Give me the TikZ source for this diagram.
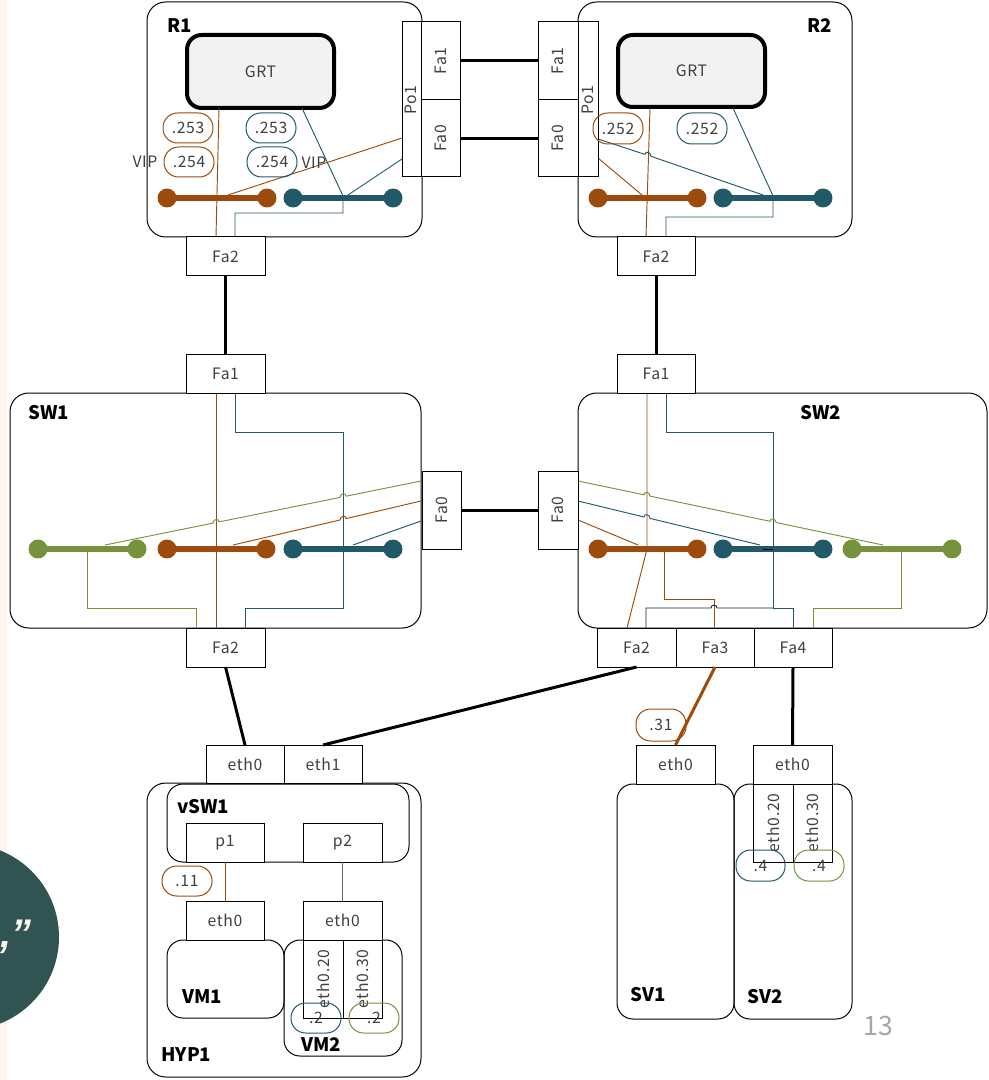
\documentclass[tikz,border=0pt]{standalone}
\usepackage{fontspec}
\setmainfont{Noto Sans CJK JP}
\newfontfamily\quotefont{Liberation Sans}
\usetikzlibrary{calc}

\definecolor{vorange}{HTML}{9C4B0C}
\definecolor{vblue}{HTML}{225968}
\definecolor{vgreen}{HTML}{76933C}
\definecolor{txt}{HTML}{404040}
\definecolor{grtfill}{HTML}{F2F2F2}
\definecolor{cream}{HTML}{FBF7EC}
\definecolor{badge}{HTML}{2F5451}
\definecolor{pagegray}{HTML}{A6A6A6}

\newcommand\porttext{\fontsize{11.8}{14}\selectfont\addfontfeatures{LetterSpace=4}}
\newcommand\devtext{\fontsize{14}{16}\selectfont\bfseries}

% a box given by its pixel corners: [style]{name}{x1}{y1}{x2}{y2}{text}
\newcommand\pxbox[7][]{%
  \node[#1, minimum width={(#5-#3)*0.75pt}, minimum height={(#6-#4)*0.75pt}]
    (#2) at ({(#3+#5)/2},{(#4+#6)/2}) {#7};}

% a VLAN bar with round ends: {colour}{x1}{x2}{y}
\newcommand\lolli[4]{%
  \draw[line width=5pt, #1] (#2,#4) -- (#3,#4);
  \fill[#1] (#2,#4) circle[radius=7.1pt];
  \fill[#1] (#3,#4) circle[radius=7.1pt];}

\begin{document}
\begin{tikzpicture}[x=0.75pt,y=-0.75pt,
  port/.style={draw=black, line width=0.75pt, fill=white, inner sep=0pt, outer sep=0pt, text=txt, font=\porttext},
  dev/.style={draw=black, line width=0.75pt, rounded corners=14pt, inner sep=0pt, outer sep=0pt},
  subdev/.style={draw=black, line width=0.75pt, rounded corners=12pt, inner sep=0pt, outer sep=0pt},
  grt/.style={draw=black, line width=3pt, fill=grtfill, rounded corners=11pt, inner sep=0pt, text=txt, font=\porttext},
  pill/.style={draw=#1, line width=0.75pt, rounded corners=11pt, inner sep=0pt, text=txt, font=\porttext},
  lbl/.style={text=txt, font=\porttext, inner sep=0pt},
  devlbl/.style={text=black, font=\devtext, inner sep=0pt},
  vlan/.style={line width=0.7pt, draw=#1},
  wire/.style={line width=2.25pt, draw=black},
]
\useasboundingbox (0,0) rectangle (988,1080);
\fill[white] (0,0) rectangle (988,1080);
\clip (0,0) rectangle (988,1080);

% side strip and badge
\fill[cream] (0,0) rectangle (7,1080);
\fill[badge] (-34,937) circle[radius=69.75pt];
\node[anchor=base west, inner sep=0pt, text=cream,
      font=\quotefont\bfseries\itshape\fontsize{30}{30}\selectfont] (quote) at (0,947) {,”};

% ---------- devices ----------
\pxbox[dev]{r1}{147}{2}{422}{237}{}
\pxbox[dev]{r2}{578}{2}{852}{237}{}
\pxbox[dev]{sw1}{10}{393}{421}{628}{}
\pxbox[dev]{sw2}{578}{393}{987}{628}{}
\pxbox[dev]{hyp}{147}{783}{421}{1077}{}
\pxbox[subdev]{vsw}{167}{784}{409}{862}{}
\pxbox[subdev]{vm1}{167}{940}{284}{1018}{}
\pxbox[subdev]{vm2}{284}{940}{402}{1056}{}
\pxbox[subdev]{sv1}{617}{784}{734}{1019}{}
\pxbox[subdev]{sv2}{734}{784}{852}{1019}{}

\pxbox[grt]{grt1}{187}{35}{334}{108}{GRT}
\pxbox[grt]{grt2}{618}{35}{765}{107}{GRT}

% ---------- VLAN bars ----------
\lolli{vorange}{167}{267}{198}
\lolli{vblue}{293}{393}{198}
\lolli{vorange}{598}{697}{198}
\lolli{vblue}{723}{823}{198}
\lolli{vgreen}{38}{137}{549}
\lolli{vorange}{167}{266}{549}
\lolli{vblue}{293}{393}{549}
\lolli{vorange}{598}{697}{549}
\lolli{vblue}{723}{823}{549}
\lolli{vgreen}{852}{952}{549}

% ---------- VLAN paths inside R1 ----------
\draw[vlan=vorange] (219,108) -- (216,237);
\draw[vlan=vorange] (402,138) -- (228,195);
\draw[vlan=vblue] (302,108) -- (343,196) -- (343,213) -- (235,213) -- (235,237);
\draw[vlan=vblue] (402,159) -- (348,195);

% ---------- VLAN paths inside R2 ----------
\draw[vlan=vorange] (650,108) -- (646,237);
\draw[vlan=vorange] (598,158) -- (642,195);
\draw[vlan=vblue] (598,139) -- (645,154.4) .. controls +(0,-4) and +(0,-4) .. (651,156.3) -- (763,195);
\draw[vlan=vblue] (733,108) -- (773,196) -- (773,217) -- (666,217) -- (666,237);

% ---------- VLAN paths inside SW1 ----------
\draw[vlan=vorange] (216,393) -- (216,628);
\draw[vlan=vblue] (235,393) -- (235,432) -- (343,432) -- (343,608) -- (245,608) -- (245,628);
\draw[vlan=vgreen] (87,549) -- (87,608) -- (196,608) -- (196,628);
\draw[vlan=vgreen] (421,481) -- (346,496.2) .. controls +(0,-4) and +(0,-4) .. (340,497.4)
  -- (219,521.9) .. controls +(0,-4) and +(0,-4) .. (213,523.1) -- (105,545);
\draw[vlan=vorange] (421,501) -- (346,518.6) .. controls +(0,-4) and +(0,-4) .. (340,520.0) -- (233,545);
\draw[vlan=vblue] (421,521) -- (353,545);

% ---------- VLAN paths inside SW2 ----------
\draw[vlan=vorange] (647,393) -- (647,549) -- (627,628);
\draw[vlan=vorange] (664,549) -- (664,599) -- (714,599) -- (714,628);
\draw[vlan=vblue] (666,393) -- (666,432) -- (773,432) -- (773,608) -- (793,608) -- (793,628);
\draw[vlan=black!85] (646,628) -- (646,608) -- (711,608) .. controls +(0,-4) and +(0,-4) .. (717,608) -- (773,608);
\draw[vlan=black] (763,549) -- (773,549);
\draw[vlan=vgreen] (901,549) -- (901,608) -- (813,608) -- (813,628);
\draw[vlan=vgreen] (578,481) -- (644,494.8) .. controls +(0,-4) and +(0,-4) .. (650,496.1)
  -- (770,521.3) .. controls +(0,-4) and +(0,-4) .. (776,522.5) -- (883,545);
\draw[vlan=vblue] (578,501) -- (644,517.0) .. controls +(0,-4) and +(0,-4) .. (650,518.4) -- (760,545);
\draw[vlan=vorange] (578,520) -- (638,545);

% ---------- ports ----------
\pxbox[port]{r1po1}{402}{22}{421}{177}{}
\pxbox[port]{r1fa1}{421}{22}{460}{100}{}
\pxbox[port]{r1fa0}{421}{100}{460}{177}{}
\pxbox[port]{r1fa2}{186}{237}{265}{276}{Fa2}
\pxbox[port]{r2po1}{578}{22}{598}{177}{}
\pxbox[port]{r2fa1}{538}{22}{578}{100}{}
\pxbox[port]{r2fa0}{538}{100}{578}{177}{}
\pxbox[port]{r2fa2}{617}{237}{695}{276}{Fa2}

\pxbox[port]{sw1fa1}{186}{354}{265}{393}{Fa1}
\pxbox[port]{sw1fa0}{422}{471}{461}{549}{}
\pxbox[port]{sw1fa2}{186}{628}{265}{667}{Fa2}
\pxbox[port]{sw2fa1}{617}{354}{695}{393}{Fa1}
\pxbox[port]{sw2fa0}{538}{471}{578}{549}{}
\pxbox[port]{sw2fa2}{597}{628}{676}{667}{Fa2}
\pxbox[port]{sw2fa3}{676}{628}{754}{667}{Fa3}
\pxbox[port]{sw2fa4}{754}{628}{832}{667}{Fa4}

\pxbox[port]{hypeth0}{206}{745}{284}{783}{eth0}
\pxbox[port]{hypeth1}{284}{745}{362}{783}{eth1}
\pxbox[port]{p1}{186}{823}{264}{862}{p1}
\pxbox[port]{p2}{303}{823}{382}{862}{p2}
\pxbox[port]{vm1eth0}{186}{901}{264}{940}{eth0}
\pxbox[port]{vm2eth0}{303}{901}{382}{940}{eth0}
\pxbox[port]{vm2v20}{303}{940}{343}{1018}{}
\pxbox[port]{vm2v30}{343}{940}{382}{1018}{}

\pxbox[port]{sv1eth0}{636}{745}{715}{784}{eth0}
\pxbox[port]{sv2eth0}{753}{745}{832}{784}{eth0}
\pxbox[port]{sv2v20}{753}{784}{793}{862}{}
\pxbox[port]{sv2v30}{793}{784}{832}{862}{}

% rotated port names
\node[lbl, rotate=90] (r1po1t) at (411,100) {Po1};
\node[lbl, rotate=90] (r1fa1t) at (r1fa1) {Fa1};
\node[lbl, rotate=90] (r1fa0t) at (r1fa0) {Fa0};
\node[lbl, rotate=90] (r2po1t) at (588,100) {Po1};
\node[lbl, rotate=90] (r2fa1t) at (r2fa1) {Fa1};
\node[lbl, rotate=90] (r2fa0t) at (r2fa0) {Fa0};
\node[lbl, rotate=90] (sw1fa0t) at (sw1fa0) {Fa0};
\node[lbl, rotate=90] (sw2fa0t) at (sw2fa0) {Fa0};
\node[lbl, rotate=90] (vm2v20t) at (vm2v20) {eth0.20};
\node[lbl, rotate=90] (vm2v30t) at (vm2v30) {eth0.30};
\node[lbl, rotate=90] (sv2v20t) at (sv2v20) {eth0.20};
\node[lbl, rotate=90] (sv2v30t) at (sv2v30) {eth0.30};

% ---------- addresses ----------
\pxbox[pill=vorange]{a1}{163}{113}{213}{143}{.253}
\pxbox[pill=vorange]{a2}{164}{147}{214}{177}{.254}
\pxbox[pill=vblue]{a3}{246}{113}{296}{143}{.253}
\pxbox[pill=vblue]{a4}{247}{147}{297}{177}{.254}
\pxbox[pill=vorange]{a5}{593}{113}{643}{144}{.252}
\pxbox[pill=vblue]{a6}{677}{113}{727}{144}{.252}
\pxbox[pill=vorange]{a7}{636}{709}{686}{741}{.31}
\pxbox[pill=vorange]{a8}{162}{866}{212}{896}{.11}
\pxbox[pill=vblue]{a9}{291}{1003}{341}{1033}{.2}
\pxbox[pill=vgreen]{a10}{349}{1003}{399}{1033}{.2}
\pxbox[pill=vblue]{a11}{736}{850}{785}{881}{.4}
\pxbox[pill=vgreen]{a12}{794}{850}{844}{881}{.4}
\node[lbl] (vip1) at (145,162) {VIP};
\node[lbl] (vip2) at (314,163) {VIP};

% ---------- device names ----------
\node[devlbl, anchor=west] (r1t) at (167,26) {R1};
\node[devlbl, anchor=east] (r2t) at (832,26) {R2};
\node[devlbl, anchor=west] (sw1t) at (28,413) {SW1};
\node[devlbl, anchor=west] (sw2t) at (800,413) {SW2};
\node[devlbl, anchor=west] (vswt) at (177,807) {vSW1};
\node[devlbl, anchor=west] (vm1t) at (182,997) {VM1};
\node[devlbl, anchor=west] (vm2t) at (301,1045) {VM2};
\node[devlbl, anchor=west] (hypt) at (161,1055) {HYP1};
\node[devlbl, anchor=west] (sv1t) at (630,995) {SV1};
\node[devlbl, anchor=west] (sv2t) at (747,997) {SV2};

% ---------- links ----------
\draw[wire] (r1fa1.east) -- (r2fa1.west);
\draw[wire] (r1fa0.east) -- (r2fa0.west);
\draw[wire] (r1fa2.south) -- (sw1fa1.north);
\draw[wire] (r2fa2.south) -- (sw2fa1.north);
\draw[wire] (sw1fa0.east) -- (sw2fa0.west);
\draw[wire] (sw1fa2.south) -- (hypeth0.north);
\draw[wire] (sw2fa2.south) -- (hypeth1.north);
\draw[wire, draw=vorange] (sw2fa3.south) -- (sv1eth0.north);
\draw[wire] (sw2fa4.south) -- (sv2eth0.north);
\draw[vlan=vorange] (p1.south) -- (vm1eth0.north);
\draw[vlan=black!60] (p2.south) -- (vm2eth0.north);

% page number
\node[text=pagegray, font=\fontsize{20}{22}\selectfont, inner sep=0pt] (pagenum) at (878,1026) {13};
\end{tikzpicture}
\end{document}
